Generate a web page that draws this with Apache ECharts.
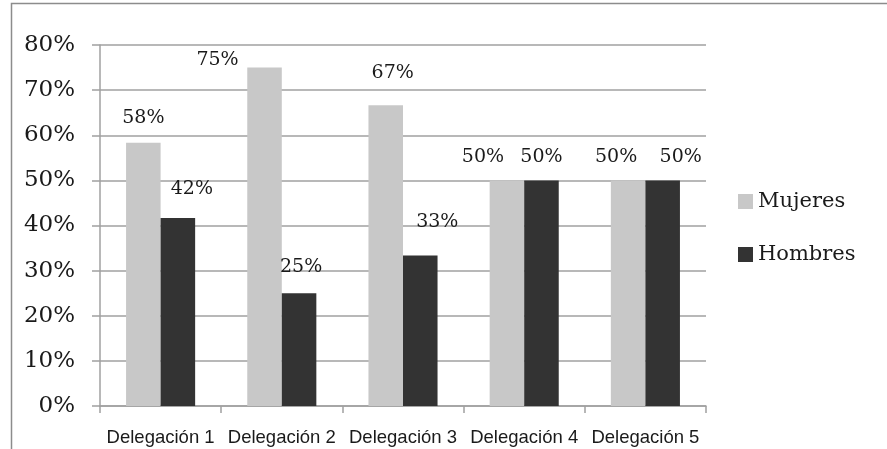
<!DOCTYPE html>
<html>
<head>
<meta charset="utf-8">
<script src="https://cdn.jsdelivr.net/npm/echarts@6/dist/echarts.min.js"></script>
<style>html,body{margin:0;padding:0;background:#fff}#c{width:887px;height:449px}</style>
</head>
<body>
<div id="c"></div>
<script>
var categories = ['Delegación 1', 'Delegación 2', 'Delegación 3', 'Delegación 4', 'Delegación 5'];
var mujeres = [58.33, 75, 66.67, 50, 50];
var hombres = [41.67, 25, 33.33, 50, 50];
var yTicks = [0, 10, 20, 30, 40, 50, 60, 70, 80];
// label nudges (Excel placed labels freely)
var mujeresLabelShift = [[0, -15], [-47, 2], [7, -22], [-24, -13], [-12, -13]];
var hombresLabelShift = [[14, -19], [2, -16], [17, -24], [0, -13], [18, -13]];

function build(values, shifts) {
  return values.map(function (v, i) {
    return { value: v, label: { offset: shifts[i] } };
  });
}
var labelStyle = {
  show: true, position: 'top', distance: 0,
  fontFamily: 'DejaVu Serif', fontSize: 19, lineHeight: 20, color: '#1a1a1a',
  formatter: function (p) { return Math.round(p.value) + '%'; }
};
var chart = echarts.init(document.getElementById('c'));
chart.setOption({
  animation: false,
  grid: { left: 100, right: 181, top: 45, bottom: 43 },
  graphic: [{
    type: 'rect', shape: { x: 11.5, y: 3.5, width: 1000, height: 1000 },
    style: { fill: 'none', stroke: '#8c8c8c', lineWidth: 1.5 }, silent: true
  }],
  legend: {
    orient: 'vertical', left: 738, top: 191, padding: 0, itemWidth: 15, itemHeight: 15, itemGap: 32,
    icon: 'rect',
    textStyle: { fontFamily: 'DejaVu Serif', fontSize: 21, lineHeight: 21, color: '#1a1a1a' },
    data: ['Mujeres', 'Hombres']
  },
  xAxis: {
    type: 'category', data: categories,
    axisLine: { lineStyle: { color: '#a0a0a0', width: 1.5 } },
    axisTick: { show: true, length: 7, lineStyle: { color: '#a0a0a0', width: 1.5 } },
    axisLabel: { fontFamily: 'Liberation Sans', fontSize: 18.5, color: '#1a1a1a', margin: 22, interval: 0 }
  },
  yAxis: {
    type: 'value', min: 0, max: 80, interval: 10,
    axisLine: { show: true, lineStyle: { color: '#a0a0a0', width: 1.5 } },
    axisTick: { show: true, length: 8, lineStyle: { color: '#a0a0a0', width: 1.5 } },
    splitLine: { lineStyle: { color: '#a0a0a0', width: 1.5 } },
    axisLabel: {
      fontFamily: 'DejaVu Serif', fontSize: 23, color: '#1a1a1a', margin: 25,
      formatter: function (v) { return yTicks.indexOf(v) >= 0 ? v + '%' : ''; }
    }
  },
  series: [
    { name: 'Mujeres', type: 'bar', data: build(mujeres, mujeresLabelShift), barGap: '0%', barCategoryGap: '43%',
      itemStyle: { color: '#c8c8c8' }, label: labelStyle },
    { name: 'Hombres', type: 'bar', data: build(hombres, hombresLabelShift), barGap: '0%', barCategoryGap: '43%',
      itemStyle: { color: '#333333' }, label: labelStyle }
  ]
});
</script>
</body>
</html>
